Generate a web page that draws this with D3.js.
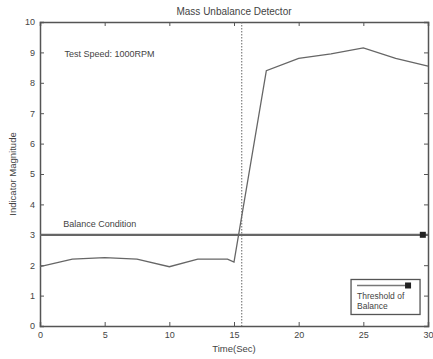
<!DOCTYPE html>
<html>
<head>
<meta charset="utf-8">
<script src="https://cdn.jsdelivr.net/npm/d3@7"></script>
<style>
  body { margin: 0; background: #fff; }
  text { font-family: "Liberation Sans", Arial, sans-serif; fill: #444; }
</style>
</head>
<body>
<div id="chart"></div>
<script>
// data
const timeSec = [0, 2.5, 5, 7.5, 10, 12.2, 14.5, 15, 17.5, 20, 22.5, 25, 27.5, 30];
const magnitude = [1.95, 2.2, 2.25, 2.2, 1.95, 2.2, 2.2, 2.1, 8.4, 8.8, 8.95, 9.15, 8.8, 8.55];
const threshold = 3;
const detectTime = 15.6;
const xTicks = [0, 5, 10, 15, 20, 25, 30];
const yTicks = [0, 1, 2, 3, 4, 5, 6, 7, 8, 9, 10];

const W = 433, H = 359;
const margin = {top: 22, right: 5, bottom: 33, left: 40};
const chtW = W - margin.left - margin.right;
const chtH = H - margin.top - margin.bottom;
const ink = "#555";

const svg = d3.select("#chart").append("svg").attr("width", W).attr("height", H);
const g = svg.append("g").attr("transform", "translate(" + margin.left + "," + margin.top + ")");

const x = d3.scaleLinear().domain([0, 30]).range([0, chtW]);
const y = d3.scaleLinear().domain([0, 10]).range([chtH, 0]);

// axes, ticks pointing inward, box on all four sides
const axBottom = g.append("g").attr("transform", "translate(0," + chtH + ")")
  .call(d3.axisBottom(x).tickValues(xTicks).tickSize(-4).tickPadding(6));
const axLeft = g.append("g")
  .call(d3.axisLeft(y).tickValues(yTicks).tickSize(-4).tickPadding(5));
const axTop = g.append("g").call(d3.axisTop(x).tickValues(xTicks).tickSize(-4).tickFormat(""));
const axRight = g.append("g").attr("transform", "translate(" + chtW + ",0)")
  .call(d3.axisRight(y).tickValues(yTicks).tickSize(-4).tickFormat(""));

[axBottom, axLeft, axTop, axRight].forEach(a => {
  a.select(".domain").attr("stroke", ink).attr("stroke-width", 1.5);
  a.selectAll(".tick line").attr("stroke", ink);
  a.selectAll(".tick text").attr("font-size", 9).attr("fill", "#444");
});

// threshold line
g.append("line")
  .attr("x1", x(0)).attr("x2", x(30))
  .attr("y1", y(threshold)).attr("y2", y(threshold))
  .attr("stroke", "#666").attr("stroke-width", 2.2);
g.append("rect")
  .attr("x", x(29.6) - 3).attr("y", y(threshold) - 3)
  .attr("width", 6).attr("height", 6).attr("fill", "#222");

// detection time
g.append("line")
  .attr("x1", x(detectTime)).attr("x2", x(detectTime))
  .attr("y1", y(10)).attr("y2", y(0))
  .attr("stroke", "#666").attr("stroke-width", 1)
  .attr("stroke-dasharray", "1.5,1.5");

// indicator curve
const line = d3.line()
  .x((d, i) => x(timeSec[i]))
  .y(d => y(d));
g.append("path")
  .datum(magnitude)
  .attr("fill", "none")
  .attr("stroke", "#666")
  .attr("stroke-width", 1.3)
  .attr("d", line);

// annotations
g.append("text").attr("x", x(1.9)).attr("y", y(8.85)).attr("font-size", 9).text("Test Speed: 1000RPM");
g.append("text").attr("x", x(1.8)).attr("y", y(3.25)).attr("font-size", 9).text("Balance Condition");

// legend
const lg = g.append("g").attr("transform", "translate(" + (x(24.05)) + "," + (y(1.53)) + ")");
lg.append("rect").attr("width", 69).attr("height", 35)
  .attr("fill", "#fff").attr("stroke", ink).attr("stroke-width", 1.3);
lg.append("line").attr("x1", 6).attr("x2", 57).attr("y1", 6).attr("y2", 6)
  .attr("stroke", "#777").attr("stroke-width", 1.5);
lg.append("rect").attr("x", 54).attr("y", 3).attr("width", 6).attr("height", 6).attr("fill", "#222");
lg.append("text").attr("x", 6).attr("y", 20).attr("font-size", 8.5).text("Threshold of");
lg.append("text").attr("x", 6).attr("y", 30).attr("font-size", 8.5).text("Balance");

// titles
svg.append("text").attr("x", margin.left + chtW / 2).attr("y", 15)
  .attr("text-anchor", "middle").attr("font-size", 10).text("Mass Unbalance Detector");
svg.append("text").attr("x", margin.left + chtW / 2).attr("y", 352)
  .attr("text-anchor", "middle").attr("font-size", 9.5).text("Time(Sec)");
svg.append("text")
  .attr("transform", "translate(16," + (margin.top + chtH / 2) + ") rotate(-90)")
  .attr("text-anchor", "middle").attr("font-size", 9.5).text("Indicator Magnitude");
</script>
</body>
</html>
